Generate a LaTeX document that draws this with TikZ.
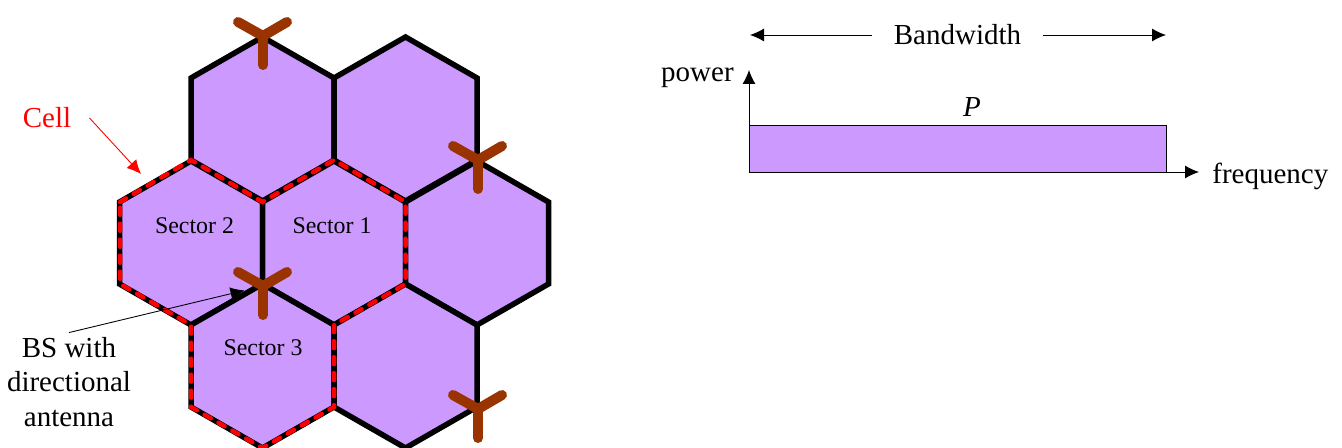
\documentclass[tikz,border=0pt]{standalone}
\usepackage{fontspec}
\setmainfont{Liberation Serif}
\usetikzlibrary{arrows.meta}
\definecolor{cellfill}{HTML}{CC99FF}
\definecolor{antbrown}{HTML}{993300}
\tikzset{
  hexcell/.style={draw=black,fill=cellfill,line width=.11cm,line join=miter},
  celldash/.style={draw=red,line width=.09cm,line cap=round,dash pattern=on .14cm off .18cm},
  antenna/.style={draw=antbrown,line width=.2cm,line cap=round,line join=round},
  thinarrow/.style={line width=.5pt,-{Latex[length=.28cm,width=.26cm]}},
  biglabel/.style={font=\fontsize{16.5}{19.85}\selectfont,inner sep=0pt},
  seclabel/.style={font=\fontsize{13.6}{16}\selectfont,inner sep=0pt}
}
\begin{document}
\begin{tikzpicture}[x=.02cm,y=-.02cm]
\useasboundingbox (0,0) rectangle (1342,448);
\foreach \cx/\cy in {262.5/119,405.5/119,191/243,334/243,477/243,262.5/366,405.5/366}{
  \draw[hexcell] (\cx,\cy-82)--(\cx+71.5,\cy-41)--(\cx+71.5,\cy+41)--(\cx,\cy+82)--(\cx-71.5,\cy+41)--(\cx-71.5,\cy-41)--cycle;}
\draw[celldash] (120,202)--(191,160)--(262.5,202)--(334,160)--(405.5,202)--(405.5,284)--(334,325)--(334,407)--(262.5,448)--(191,407)--(191,325)--(120,284)--cycle;
\foreach \p/\x/\y in {anta/263/36,antb/263/286,antc/478/160,antd/478/409}{
  \coordinate (\p) at (\x,\y);
  \draw[antenna] (\x-25,\y-14)--(\p)--(\x+24,\y-14);
  \draw[antenna] (\p)--(\x,\y+29);}
\node[seclabel] (sectwo) at (194.5,226) {Sector 2};
\node[seclabel] (secone) at (332,226) {Sector 1};
\node[seclabel] (secthree) at (263,348) {Sector 3};
% left labels
\node[biglabel,red,inner xsep=.36cm] (cell) at (47,118) {Cell};
\coordinate (celltip) at (141,174);
\draw[thinarrow,red] (cell.east)--(celltip);
\node[biglabel,align=center,inner ysep=.08cm] (bs) at (69,382) {BS with\\directional\\antenna};
\draw[thinarrow,shorten >=.38cm] (bs.north)--(antb);
% spectrum
\coordinate (O) at (749,172); \coordinate (Y) at (749,70); \coordinate (X) at (1199,172);
\node[draw=black,line width=.5pt,fill=cellfill,inner sep=0pt,minimum width=8.34cm,minimum height=.94cm] (band) at (957.5,148.5) {};
\draw[thinarrow] (O)--(Y);
\draw[thinarrow] (O)--(X);
\node[biglabel,anchor=east] (power) at (734,78) {power};
\node[biglabel,anchor=west] (freq) at (1212,176) {frequency};
\node[biglabel] (pow) at (972,107) {\textit{P}};
\node[biglabel,inner xsep=.44cm] (bw) at (957.5,35) {Bandwidth};
\coordinate (bwl) at (750,35); \coordinate (bwr) at (1166,35);
\draw[thinarrow] (bw.west)--(bwl);
\draw[thinarrow] (bw.east)--(bwr);
\end{tikzpicture}
\end{document}
